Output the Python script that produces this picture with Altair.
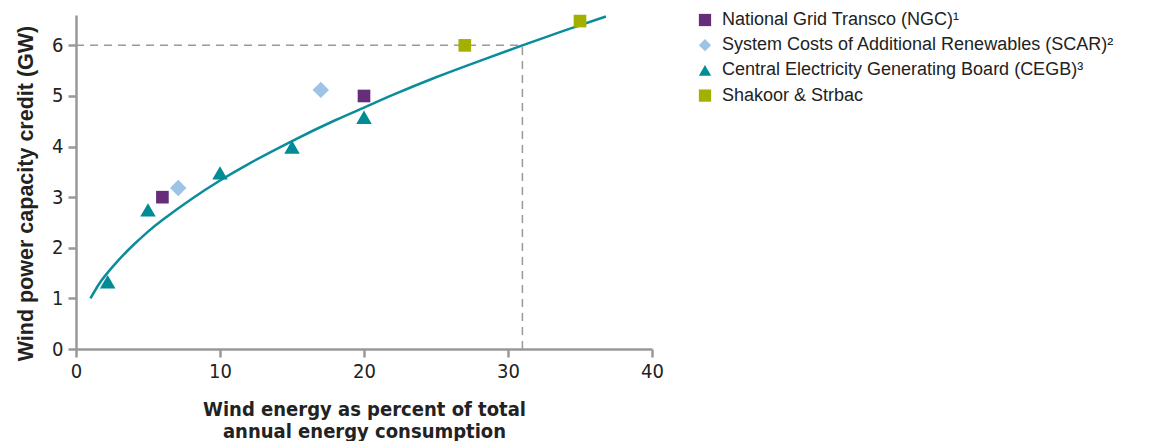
import altair as alt
import pandas as pd

# Scatter data
series_names = [
    "National Grid Transco (NGC)¹",
    "System Costs of Additional Renewables (SCAR)²",
    "Central Electricity Generating Board (CEGB)³",
    "Shakoor & Strbac",
]
ngc_x = [6, 20]
ngc_y = [3.0, 5.0]
scar_x = [7.1, 17]
scar_y = [3.18, 5.12]
cegb_x = [2.2, 5, 10, 15, 20]
cegb_y = [1.33, 2.75, 3.48, 3.99, 4.58]
shak_x = [27, 35]
shak_y = [6.0, 6.48]

# Fitted curve
curve_x = [1, 1.5, 2, 3, 4, 5, 6, 8, 10, 12, 15, 18, 20, 22, 25, 28, 31, 34, 36.8]
curve_y = [1.0, 1.24, 1.44, 1.77, 2.06, 2.32, 2.55, 2.96, 3.33, 3.66, 4.11, 4.52, 4.77, 5.02, 5.37, 5.69, 6.0, 6.3, 6.57]

# Reference lines
ref_x = 31
ref_y = 6

colors = ["#652d7a", "#9dc3e6", "#008c95", "#a3b000"]
shapes = ["square", "diamond", "triangle-up", "square"]

rows = []
for name, xs, ys in zip(series_names, [ngc_x, scar_x, cegb_x, shak_x], [ngc_y, scar_y, cegb_y, shak_y]):
    for x, y in zip(xs, ys):
        rows.append({"x": x, "y": y, "series": name})
pts = pd.DataFrame(rows)
curve = pd.DataFrame({"x": curve_x, "y": curve_y})
hline = pd.DataFrame({"x": [0, ref_x], "y": [ref_y, ref_y]})
vline = pd.DataFrame({"x": [ref_x, ref_x], "y": [0, ref_y]})

COND = "DejaVu Sans Condensed, Liberation Sans, sans-serif"

xs = alt.Scale(domain=[0, 40], nice=False, zero=True)
ys = alt.Scale(domain=[0, 6.6], nice=False)

xenc = alt.X("x:Q", scale=xs, axis=alt.Axis(
    values=[0, 10, 20, 30, 40], title=["Wind energy as percent of total", "annual energy consumption"],
    grid=False, titlePadding=18, labelPadding=4, titleFont=COND, titleFontSize=20,
    titleLineHeight=22))
yenc = alt.Y("y:Q", scale=ys, axis=alt.Axis(
    values=[0, 1, 2, 3, 4, 5, 6], title="Wind power capacity credit (GW)",
    grid=False, titlePadding=14, labelPadding=5, titleY=178))

dash = dict(color="#999999", strokeDash=[8, 6], strokeWidth=1.5)
h = alt.Chart(hline).mark_line(**dash).encode(x=xenc, y=yenc)
v = alt.Chart(vline).mark_line(**dash).encode(x="x:Q", y="y:Q")

line = alt.Chart(curve).mark_line(color="#0b8c9b", strokeWidth=2.5, interpolate="natural").encode(
    x="x:Q", y="y:Q")

size_rule = (
    alt.when(alt.datum.series == series_names[1]).then(alt.value(270))
    .when(alt.datum.series == series_names[2]).then(alt.value(240))
    .otherwise(alt.value(160))
)

points = alt.Chart(pts).mark_point(filled=True, opacity=1).encode(
    x="x:Q", y="y:Q",
    color=alt.Color("series:N", scale=alt.Scale(domain=series_names, range=colors),
                    legend=alt.Legend(title=None, orient="none", legendX=620, legendY=-4,
                                      symbolSize=150, labelFontSize=18, rowPadding=7.2,
                                      labelFont="Liberation Sans", labelColor="#222222",
                                      symbolStrokeWidth=0, labelLimit=500, labelOffset=8)),
    shape=alt.Shape("series:N", scale=alt.Scale(domain=series_names, range=shapes), legend=None),
    size=size_rule,
)

chart = alt.layer(h, v, line, points).properties(
    width=576, height=334, padding={"left": 7, "top": 3, "right": 5, "bottom": 5}
).configure_view(
    stroke=None
).configure_axis(
    domainColor="#999999", domainWidth=2.5, tickColor="#999999", tickWidth=2.5, tickSize=8,
    labelFont=COND, labelFontSize=20, labelColor="#222222",
    titleFont="Liberation Sans", titleFontSize=21.5, titleFontWeight="bold", titleColor="#222222",
    labelFlush=False, labelOverlap=False
)

chart.save("out.html", embed_options={"renderer": "svg", "actions": False})
